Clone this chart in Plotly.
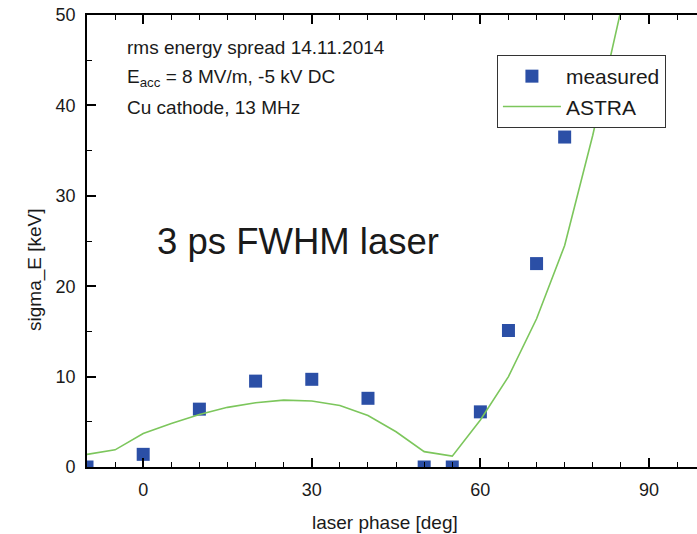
import plotly.graph_objects as go

# Measured rms energy spread vs laser phase
phase_measured = [-10, 0, 10, 20, 30, 40, 50, 55, 60, 65, 70, 75]
sigma_measured = [0, 1.4, 6.4, 9.5, 9.7, 7.6, 0, 0, 6.1, 15.1, 22.5, 36.5]

# ASTRA simulation
phase_astra = [-10, -5, 0, 5, 10, 15, 20, 25, 30, 35, 40, 45, 50, 55, 60, 65, 70, 75, 80, 85]
sigma_astra = [1.4, 1.9, 3.7, 4.8, 5.8, 6.6, 7.1, 7.4, 7.3, 6.8, 5.7, 3.9, 1.7, 1.2,
               5.2, 10.0, 16.4, 24.5, 36.7, 50.5]

FONT = "Liberation Sans, Arial, sans-serif"
TXT = "#1a1a1a"

fig = go.Figure()
fig.add_trace(go.Scatter(
    x=phase_measured, y=sigma_measured, mode="markers", name="measured",
    marker=dict(symbol="square", size=13, color="#2B4FA6",
                line=dict(width=0)),
    cliponaxis=True,
))
fig.add_trace(go.Scatter(
    x=phase_astra, y=sigma_astra, mode="lines", name="ASTRA",
    line=dict(color="#7CC65C", width=1.6),
    cliponaxis=True,
))

axis_common = dict(
    showgrid=False, zeroline=False, showline=True, linecolor="black",
    linewidth=1.6, ticks="inside", tickcolor="black", tickwidth=1.6,
    ticklen=9, tickfont=dict(family=FONT, size=18, color=TXT),
    ticklabelstandoff=6,
)

fig.update_xaxes(
    range=[-10, 98.55], tickvals=[0, 30, 60, 90], mirror="ticks",
    minor=dict(dtick=5, tick0=0, ticks="inside", ticklen=5,
               tickcolor="black", tickwidth=1.4),
    **axis_common,
)
fig.update_yaxes(
    range=[0, 50], tickvals=[0, 10, 20, 30, 40, 50], mirror=False,
    minor=dict(dtick=5, tick0=0, ticks="inside", ticklen=5,
               tickcolor="black", tickwidth=1.4),
    **axis_common,
)

def note(text, x, y, size=19, xanchor="left", angle=0):
    fig.add_annotation(text=text, x=x, y=y, xref="paper", yref="paper",
                       xanchor=xanchor, yanchor="middle", showarrow=False,
                       textangle=angle,
                       font=dict(family=FONT, size=size, color=TXT))

note("rms energy spread 14.11.2014", 0.062, 0.927)
note("E<sub>acc</sub> = 8 MV/m, -5 kV DC", 0.062, 0.86)
note("Cu cathode, 13 MHz", 0.062, 0.796)
note("3 ps FWHM laser", 0.111, 0.498, size=36.5)
note("laser phase [deg]", 0.4885, -0.1217, xanchor="center")
note("sigma_E [keV]", -0.0852, 0.436, xanchor="center", angle=-90)

fig.update_layout(
    width=697, height=534,
    margin=dict(l=87, r=0, t=15, b=67),
    paper_bgcolor="white", plot_bgcolor="white",
    showlegend=True,
    legend=dict(x=0.672, y=0.9115, xanchor="left", yanchor="top",
                bgcolor="white", bordercolor="#333333", borderwidth=1,
                font=dict(family=FONT, size=21, color=TXT),
                itemwidth=58, tracegroupgap=0),
)

fig.write_html("out.html")
